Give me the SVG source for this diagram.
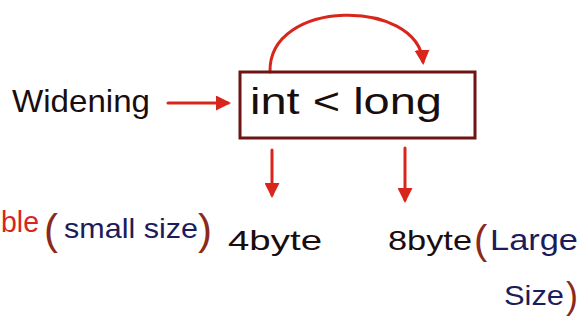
<svg xmlns="http://www.w3.org/2000/svg" width="585" height="320" viewBox="0 0 585 320">
<defs>
<marker id="ah" viewBox="0 0 10 10" refX="8" refY="5" markerWidth="5" markerHeight="5" orient="auto-start-reverse">
<path d="M0,0 L10,5 L0,10 z" fill="#d8261c"/>
</marker>
<style>
.hand{font-family:"Liberation Sans","DejaVu Sans",sans-serif;}
.blk{fill:#1a0d0d;}
.navy{fill:#1c1c5c;}
.brown{fill:#8b2a1a;}
.red{fill:#d8261c;}
.conn{fill:none;stroke:#d8261c;stroke-width:3;stroke-linecap:round;marker-end:url(#ah);}
</style>
</defs>
<rect width="585" height="320" fill="#ffffff"/>
<g id="connectors">
<path class="conn" d="M168 103 L228 103"/>
<path class="conn" d="M270 72 C268 -2 418 -2 423 62"/>
<path class="conn" d="M272 150 L272 195"/>
<path class="conn" d="M405 148 L405 200"/>
</g>
<g id="widening">
<text class="hand blk" x="12" y="112" font-size="32" textLength="138" lengthAdjust="spacingAndGlyphs">Widening</text>
</g>
<g id="box">
<rect x="240" y="72" width="235" height="66" fill="none" stroke="#6e1414" stroke-width="3"/>
<text class="hand blk" x="250" y="114" font-size="36" textLength="192" lengthAdjust="spacingAndGlyphs">int &lt; long</text>
</g>
<g id="left-label">
<text class="hand red" x="1" y="232" font-size="30" textLength="38" lengthAdjust="spacingAndGlyphs">ble</text>
<text class="hand brown" x="44" y="244" font-size="42">(</text>
<text class="hand navy" x="64" y="238" font-size="28" textLength="134" lengthAdjust="spacingAndGlyphs">small size</text>
<text class="hand brown" x="198" y="244" font-size="42">)</text>
</g>
<g id="four-byte">
<text class="hand blk" x="228" y="250" font-size="28" textLength="94" lengthAdjust="spacingAndGlyphs">4byte</text>
</g>
<g id="eight-byte">
<text class="hand blk" x="388" y="250" font-size="28" textLength="84" lengthAdjust="spacingAndGlyphs">8byte</text>
<text class="hand brown" x="474" y="254" font-size="40">(</text>
<text class="hand navy" x="490" y="250" font-size="30" textLength="88" lengthAdjust="spacingAndGlyphs">Large</text>
<text class="hand navy" x="504" y="305" font-size="28" textLength="60" lengthAdjust="spacingAndGlyphs">Size</text>
<text class="hand brown" x="566" y="308" font-size="36">)</text>
</g>
</svg>
